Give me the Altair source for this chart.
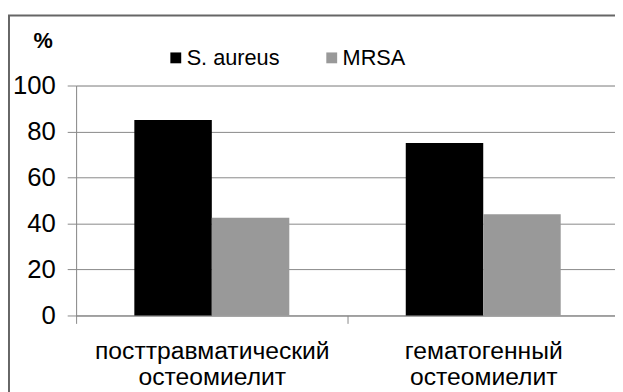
import altair as alt
import pandas as pd

categories = ["посттравматический остеомиелит", "гематогенный остеомиелит"]
series = ["S. aureus", "MRSA"]
s_aureus = [85, 75]
mrsa = [42.5, 44]
colors = ["#000000", "#999999"]
y_ticks = [0, 20, 40, 60, 80, 100]

rows = []
for i, c in enumerate(categories):
    rows.append({"cat": c, "series": series[0], "value": s_aureus[i]})
    rows.append({"cat": c, "series": series[1], "value": mrsa[i]})
df = pd.DataFrame(rows)

FONT = "Liberation Sans"

bars = alt.Chart(df).mark_bar().encode(
    x=alt.X("cat:N", sort=categories, title=None,
            scale=alt.Scale(paddingInner=0, paddingOuter=0),
            axis=alt.Axis(labelAngle=0, labelFontSize=25, labelFont=FONT, labelColor="#000",
                          labelExpr="split(datum.label, ' ')", labelLineHeight=26,
                          labelPadding=16, labelLimit=0, tickBand="extent", tickSize=8,
                          tickColor="#888", domainColor="#888", grid=False)),
    xOffset=alt.XOffset("series:N", sort=series,
                        scale=alt.Scale(paddingInner=0, paddingOuter=0.7516)),
    y=alt.Y("value:Q", scale=alt.Scale(domain=[0, 100]),
            axis=alt.Axis(values=y_ticks, title="%", titleAngle=0, titleX=-34, titleY=-46,
                          titleFontSize=22, titleFont=FONT, titleFontWeight="bold",
                          titleAlign="center", titleBaseline="middle", titleColor="#000",
                          labelFontSize=26, labelFont=FONT, labelColor="#000", labelPadding=12,
                          tickSize=9, tickColor="#888", domainColor="#888",
                          gridColor="#888", gridWidth=1)),
    color=alt.Color("series:N", sort=series,
                    scale=alt.Scale(domain=series, range=colors),
                    legend=alt.Legend(title=None, orient="none", legendX=90, legendY=-39,
                                      direction="horizontal", symbolType="square", symbolSize=121,
                                      symbolStrokeWidth=0, labelFontSize=22, labelFont=FONT,
                                      labelColor="#000", labelOffset=0, columnPadding=41,
                                      labelLimit=0, padding=0)),
)

border = alt.Chart(pd.DataFrame({"a": [0]})).mark_rect(
    fill=None, stroke="#666666", strokeWidth=2
).encode(
    x=alt.value(-68), x2=alt.value(700), y=alt.value(-71), y2=alt.value(500)
)

chart = alt.layer(bars, border).properties(
    width=550, height=233,
    autosize=alt.AutoSizeParams(type="none"),
    padding={"left": 69, "top": 76, "right": -4, "bottom": 75},
).configure_view(stroke=None).configure(background="white")

chart.save("out.html", embed_options={"renderer": "svg", "actions": False})
